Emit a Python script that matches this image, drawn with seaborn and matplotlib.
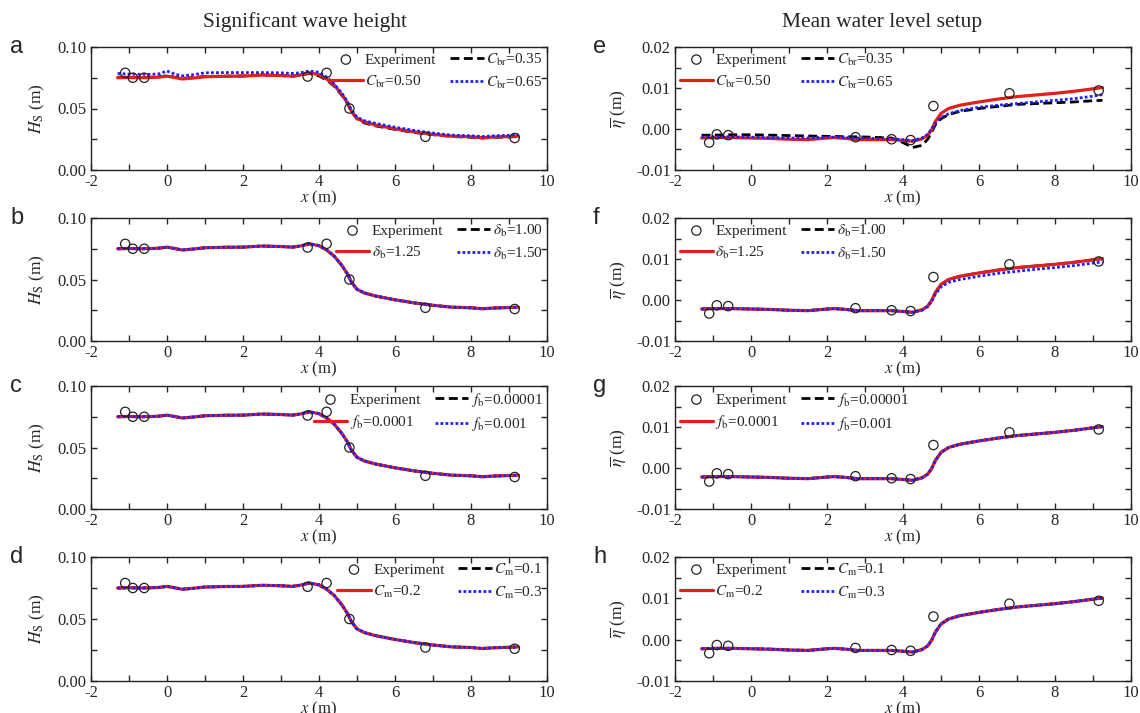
import numpy as np
import pandas as pd
import matplotlib
matplotlib.use("Agg")
import matplotlib.pyplot as plt
from matplotlib.ticker import MultipleLocator, FormatStrFormatter
import seaborn as sns

# ---------------- data ----------------
x_exp_hs = [-1.1, -0.9, -0.6, 3.7, 4.2, 4.8, 6.8, 9.15]
hs_exp = [0.079, 0.075, 0.075, 0.076, 0.079, 0.050, 0.027, 0.026]

x_exp_eta = [-1.1, -0.9, -0.6, 2.75, 3.7, 4.2, 4.8, 6.8, 9.15]
eta_exp = [-0.0033, -0.0013, -0.0015, -0.0020, -0.0025, -0.0027, 0.0056, 0.0087, 0.0094]

x_hs = [-1.3, -1.0, -0.7, -0.4, -0.2, 0.0, 0.2, 0.4, 0.7, 1.0, 1.5, 2.0, 2.5, 3.0, 3.3, 3.5,
        3.75, 4.0, 4.2, 4.4, 4.6, 4.75, 4.85, 5.0, 5.2, 5.5, 6.0, 6.5, 7.0, 7.5, 8.0, 8.3,
        8.6, 9.0, 9.25]
hs_base = [0.0750, 0.0752, 0.0750, 0.0752, 0.0755, 0.0763, 0.0752, 0.0740, 0.0748, 0.0758,
           0.0762, 0.0763, 0.0772, 0.0768, 0.0763, 0.0772, 0.0790, 0.0775, 0.0740, 0.0690,
           0.0615, 0.0545, 0.0480, 0.0420, 0.0390, 0.0365, 0.0335, 0.0310, 0.0290, 0.0275,
           0.0270, 0.0262, 0.0268, 0.0272, 0.0275]
hs_cbr035 = [0.0755, 0.0755, 0.0752, 0.0755, 0.0758, 0.0765, 0.0755, 0.0745, 0.0752, 0.0760,
             0.0763, 0.0765, 0.0772, 0.0768, 0.0762, 0.0770, 0.0785, 0.0765, 0.0732, 0.0682,
             0.0608, 0.0540, 0.0475, 0.0415, 0.0382, 0.0358, 0.0330, 0.0305, 0.0287, 0.0272,
             0.0266, 0.0260, 0.0265, 0.0268, 0.0272]
hs_cbr065 = [0.0785, 0.0780, 0.0778, 0.0778, 0.0782, 0.0805, 0.0780, 0.0765, 0.0775, 0.0790,
             0.0792, 0.0792, 0.0792, 0.0790, 0.0785, 0.0790, 0.0805, 0.0795, 0.0755, 0.0700,
             0.0625, 0.0555, 0.0490, 0.0430, 0.0400, 0.0378, 0.0348, 0.0322, 0.0300, 0.0283,
             0.0278, 0.0272, 0.0278, 0.0282, 0.0288]

x_eta = [-1.3, -1.0, -0.5, 0.0, 0.5, 1.0, 1.5, 2.0, 2.2, 2.5, 2.8, 3.2, 3.7, 4.0, 4.25, 4.5,
         4.65, 4.75, 4.85, 5.0, 5.2, 5.5, 6.0, 6.5, 7.0, 7.5, 8.0, 8.5, 9.0, 9.25]
eta_base = [-0.0022, -0.0021, -0.0021, -0.0022, -0.0023, -0.0025, -0.0026, -0.0022, -0.0021,
            -0.0023, -0.0026, -0.0026, -0.0026, -0.0028, -0.0030, -0.0024, -0.0015, -0.0002,
            0.0018, 0.0038, 0.0050, 0.0058, 0.0066, 0.0073, 0.0079, 0.0083, 0.0087, 0.0092,
            0.0098, 0.0101]
eta_cbr035 = [-0.0015, -0.0015, -0.0014, -0.0014, -0.0015, -0.0016, -0.0017, -0.0018, -0.0018,
              -0.0019, -0.0019, -0.0020, -0.0022, -0.0033, -0.0045, -0.0040, -0.0025, -0.0008,
              0.0010, 0.0025, 0.0035, 0.0043, 0.0050, 0.0055, 0.0060, 0.0062, 0.0064, 0.0066,
              0.0069, 0.0070]
eta_cbr065 = [-0.0020, -0.0019, -0.0019, -0.0020, -0.0021, -0.0022, -0.0022, -0.0020, -0.0020,
              -0.0021, -0.0022, -0.0023, -0.0024, -0.0026, -0.0028, -0.0022, -0.0013, -0.0001,
              0.0014, 0.0028, 0.0037, 0.0045, 0.0053, 0.0058, 0.0062, 0.0066, 0.0070, 0.0074,
              0.0080, 0.0084]
eta_db150 = [-0.0022, -0.0021, -0.0021, -0.0022, -0.0023, -0.0025, -0.0026, -0.0022, -0.0021,
             -0.0023, -0.0026, -0.0026, -0.0026, -0.0028, -0.0030, -0.0025, -0.0016, -0.0004,
             0.0014, 0.0032, 0.0043, 0.0050, 0.0058, 0.0065, 0.0070, 0.0075, 0.0079, 0.0084,
             0.0090, 0.0093]

labels_cbr = [r"$C_{\mathrm{br}}$=0.35", r"$C_{\mathrm{br}}$=0.50", r"$C_{\mathrm{br}}$=0.65"]
labels_db = [r"$\delta_{\mathrm{b}}$=1.00", r"$\delta_{\mathrm{b}}$=1.25", r"$\delta_{\mathrm{b}}$=1.50"]
labels_fb = [r"$f_{\mathrm{b}}$=0.00001", r"$f_{\mathrm{b}}$=0.0001", r"$f_{\mathrm{b}}$=0.001"]
labels_cm = [r"$C_{\mathrm{m}}$=0.1", r"$C_{\mathrm{m}}$=0.2", r"$C_{\mathrm{m}}$=0.3"]

titles = ["Significant wave height", "Mean water level setup"]
letters_left = ["a", "b", "c", "d"]
letters_right = ["e", "f", "g", "h"]

# ---------------- style ----------------
sns.set_style("ticks")
plt.rcParams["font.family"] = ["Liberation Serif", "DejaVu Serif"]
plt.rcParams["mathtext.fontset"] = "stix"
plt.rcParams["axes.unicode_minus"] = False
plt.rcParams["xtick.direction"] = "in"
plt.rcParams["ytick.direction"] = "in"
plt.rcParams["xtick.top"] = True
plt.rcParams["ytick.right"] = True
plt.rcParams["axes.linewidth"] = 1.0
plt.rcParams["axes.edgecolor"] = "#222222"

RED = "#e0201b"
BLUE = "#1f1fff"

fig = plt.figure(figsize=(11.4, 7.13), dpi=100)
W, H = 1140, 713
col_left = [91, 675]
width = 456
rows = [(47, 170), (218, 341), (386, 509), (557, 681)]

left_sets = [
    (hs_cbr035, hs_base, hs_cbr065, labels_cbr),
    (hs_base, hs_base, hs_base, labels_db),
    (hs_base, hs_base, hs_base, labels_fb),
    (hs_base, hs_base, hs_base, labels_cm),
]
right_sets = [
    (eta_cbr035, eta_base, eta_cbr065, labels_cbr),
    (eta_base, eta_base, eta_db150, labels_db),
    (eta_base, eta_base, eta_base, labels_fb),
    (eta_base, eta_base, eta_base, labels_cm),
]


def draw(ax, xm, ys, xe, ye, labels, right):
    sns.lineplot(x=xm, y=ys[0], ax=ax, color="black", linestyle=(0, (3.2, 1.6)), lw=2.0,
                 label=labels[0], zorder=2)
    sns.lineplot(x=xm, y=ys[1], ax=ax, color=RED, linestyle="-", lw=2.3,
                 label=labels[1], zorder=3)
    sns.lineplot(x=xm, y=ys[2], ax=ax, color=BLUE, linestyle=(0, (1, 0.8)), lw=2.0,
                 label=labels[2], zorder=4)
    sns.scatterplot(x=xe, y=ye, ax=ax, marker="o", s=45, facecolor="none",
                    edgecolor="#222222", linewidth=0.9, label="Experiment", zorder=5)
    h, l = ax.get_legend_handles_labels()
    order = [3, 1, 0, 2]
    ax.legend([h[i] for i in order], [l[i] for i in order], ncol=2,
              loc="upper left" if right else "upper right", frameon=False,
              fontsize=11, handlelength=2.2, handletextpad=0.15, columnspacing=0.9,
              labelspacing=0.45, borderaxespad=0.1, borderpad=0.2)
    ax.set_xlim(-2, 10)
    ax.xaxis.set_major_locator(MultipleLocator(2))
    ax.xaxis.set_minor_locator(MultipleLocator(1))
    ax.tick_params(which="major", length=4, width=1, labelsize=12, pad=3)
    ax.tick_params(which="minor", length=4, width=1)
    ax.set_xlabel(r"$x$ (m)", fontsize=12, labelpad=-1)


for i, (top, bot) in enumerate(rows):
    axl = fig.add_axes([col_left[0] / W, 1 - bot / H, width / W, (bot - top) / H])
    d, r, b, labs = left_sets[i]
    draw(axl, x_hs, (d, r, b), x_exp_hs, hs_exp, labs, right=False)
    axl.set_ylim(0, 0.10)
    axl.yaxis.set_major_locator(MultipleLocator(0.05))
    axl.yaxis.set_minor_locator(MultipleLocator(0.025))
    axl.yaxis.set_major_formatter(FormatStrFormatter("%.2f"))
    axl.set_ylabel(r"$H_{\mathrm{S}}$ (m)", fontsize=12.5, labelpad=8)

    axr = fig.add_axes([col_left[1] / W, 1 - bot / H, width / W, (bot - top) / H])
    d, r, b, labs = right_sets[i]
    draw(axr, x_eta, (d, r, b), x_exp_eta, eta_exp, labs, right=True)
    axr.set_ylim(-0.01, 0.02)
    axr.yaxis.set_major_locator(MultipleLocator(0.01))
    axr.yaxis.set_minor_locator(MultipleLocator(0.005))
    axr.yaxis.set_major_formatter(FormatStrFormatter("%.2f"))
    axr.set_ylabel(r"$\overline{\eta}$ (m)", fontsize=12.5, labelpad=6)

    fig.text(10 / W, 1 - (top + 6) / H, letters_left[i], fontsize=17,
             family="Liberation Sans", va="baseline", ha="left")
    fig.text(593 / W, 1 - (top + 6) / H, letters_right[i], fontsize=17,
             family="Liberation Sans", va="baseline", ha="left")

fig.text(305 / W, 1 - 22 / H, titles[0], fontsize=15.5, ha="center", va="center")
fig.text(882 / W, 1 - 22 / H, titles[1], fontsize=15.5, ha="center", va="center")

fig.savefig("out.png", dpi=100)
